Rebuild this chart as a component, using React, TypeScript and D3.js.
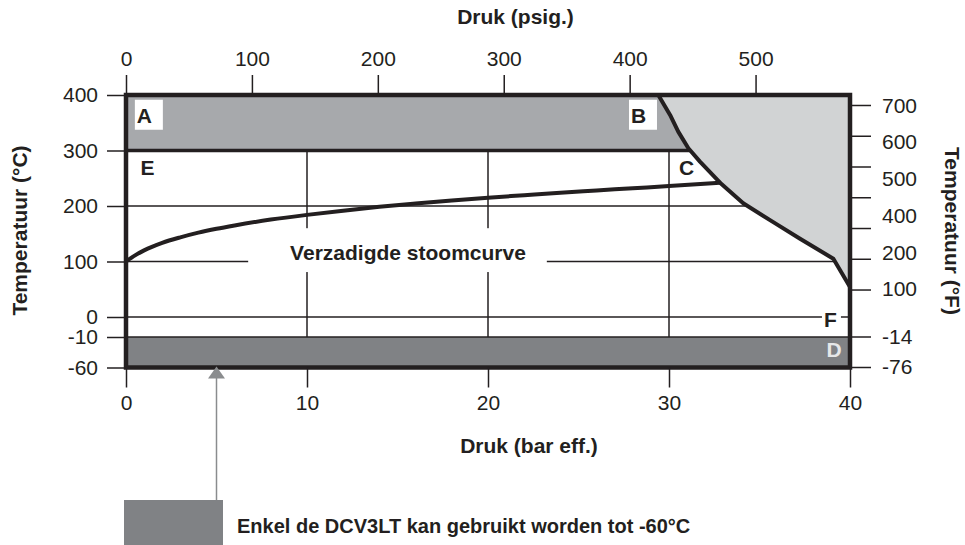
import React, { useRef, useEffect } from "react";
import * as d3 from "d3";

const W = 965;
const H = 545;
const FONT = "'Liberation Sans', Arial, Helvetica, sans-serif";
const INK = "#231f20";

// axis ticks
const barTicks = [0, 10, 20, 30, 40];
const psigTicks = [0, 100, 200, 300, 400, 500];
const celsiusTicks = [400, 300, 200, 100, 0, -10, -60];
const fahrenheitTicks = [700, 600, 500, 400, 300, 200, 100];
const fahrenheitLabels = ["700", "600", "500", "400", "200", "100"];
const fahrenheitLowLabels = ["-14", "-76"];
const fahrenheitLowCelsius = [-10, -60];

// saturated steam curve (bar eff. -> °C)
const steamBar = [0, 0.5, 1, 2, 3, 4, 5, 6, 8, 10, 12, 14, 16, 18, 20, 22, 24, 26, 28, 30, 32.8];
const steamC = [100, 111, 120, 133.5, 143.5, 152, 159, 165, 175.5, 184, 191.5, 198.5, 204.5, 210, 215, 219.5, 224, 228, 232, 236, 242];

// body limit curve (bar eff. -> °C)
const limitBar = [29.41, 29.75, 30.06, 30.51, 31.07, 31.71, 32.82, 34.1, 35.76, 37.24, 39.08, 40];
const limitC = [400, 381, 364, 334, 304, 280, 242, 205, 171, 141, 105, 54];

function App() {
  const svgRef = useRef<SVGSVGElement>(null);

  useEffect(() => {
    const svg = d3.select(svgRef.current);
    svg.selectAll("*").remove();

    const x = d3.scaleLinear().domain([0, 40]).range([126, 850]);
    const y = d3.scaleLinear().domain([-60, -10, 0, 400]).range([367.5, 337, 317, 95]);
    const xPsi = d3.scaleLinear().domain([0, 575]).range([126, 850]);
    const yF = d3.scaleLinear().domain([100, 700]).range([y(49.5), y(382)]);

    svg.append("rect").attr("width", W).attr("height", H).attr("fill", "#fff");

    // band D
    svg
      .append("rect")
      .attr("x", x(0))
      .attr("y", y(-10))
      .attr("width", x(40) - x(0))
      .attr("height", y(-60) - y(-10))
      .attr("fill", "#808285");

    // grid
    const grid = svg.append("g").attr("stroke", INK).attr("stroke-width", 1.5);
    [10, 20, 30].forEach((b) => {
      grid.append("line").attr("x1", x(b)).attr("x2", x(b)).attr("y1", y(300)).attr("y2", y(-10));
    });
    [200, 100, 0, -10].forEach((c) => {
      grid.append("line").attr("x1", x(0)).attr("x2", x(40)).attr("y1", y(c)).attr("y2", y(c));
    });

    // band A
    svg
      .append("rect")
      .attr("x", x(0))
      .attr("y", y(400))
      .attr("width", x(40) - x(0))
      .attr("height", y(300) - y(400))
      .attr("fill", "#a7a9ac");
    svg
      .append("line")
      .attr("x1", x(0))
      .attr("x2", x(40))
      .attr("y1", y(300))
      .attr("y2", y(300))
      .attr("stroke", INK)
      .attr("stroke-width", 3.5);

    // limit region
    const limitPts: [number, number][] = limitBar.map((b, i) => [x(b), y(limitC[i])]);
    const area = [...limitPts, [x(40), y(400)] as [number, number]];
    svg
      .append("path")
      .attr("d", "M" + area.map((p) => p.join(",")).join("L") + "Z")
      .attr("fill", "#d1d3d4");
    svg
      .append("path")
      .attr("d", d3.line()(limitPts))
      .attr("fill", "none")
      .attr("stroke", INK)
      .attr("stroke-width", 4)
      .attr("stroke-linejoin", "round");

    // saturated steam curve
    const steamLine = d3
      .line<number>()
      .x((b) => x(b))
      .y((b, i) => y(steamC[i]))
      .curve(d3.curveMonotoneX);
    svg
      .append("path")
      .datum(steamBar)
      .attr("d", steamLine)
      .attr("fill", "none")
      .attr("stroke", INK)
      .attr("stroke-width", 4)
      .attr("stroke-linecap", "round");

    // curve label
    svg
      .append("rect")
      .attr("x", x(6.75))
      .attr("y", y(160))
      .attr("width", x(23.25) - x(6.75))
      .attr("height", y(81) - y(160))
      .attr("fill", "#fff");
    svg
      .append("text")
      .attr("x", x(15.58))
      .attr("y", y(102.7))
      .attr("text-anchor", "middle")
      .attr("font-family", FONT)
      .attr("font-weight", "bold")
      .attr("font-size", 21)
      .attr("fill", INK)
      .text("Verzadigde stoomcurve");

    // point letters
    const letter = (t: string, b: number, c: number, box: boolean, fill = INK) => {
      if (box) {
        svg
          .append("rect")
          .attr("x", x(b) - 2)
          .attr("y", y(c) - 23)
          .attr("width", 28)
          .attr("height", 30)
          .attr("fill", "#fff");
      }
      svg
        .append("text")
        .attr("x", x(b))
        .attr("y", y(c))
        .attr("font-family", FONT)
        .attr("font-weight", "bold")
        .attr("font-size", 21)
        .attr("fill", fill)
        .text(t);
    };
    letter("A", 0.6, 350, true);
    letter("B", 27.9, 350, true);
    letter("E", 0.8, 256, false);
    letter("C", 30.55, 256, false);
    svg
      .append("rect")
      .attr("x", x(38.45))
      .attr("y", y(0) - 11)
      .attr("width", 19)
      .attr("height", 24)
      .attr("fill", "#fff");
    letter("F", 38.56, -5.2, false);
    letter("D", 38.7, -42.8, false, "#e6e7e8");

    // frame
    svg
      .append("rect")
      .attr("x", x(0))
      .attr("y", y(400))
      .attr("width", x(40) - x(0))
      .attr("height", y(-60) - y(400))
      .attr("fill", "none")
      .attr("stroke", INK)
      .attr("stroke-width", 4.5);

    const styleAxis = (g: d3.Selection<SVGGElement, unknown, null, undefined>) => {
      g.select(".domain").remove();
      g.attr("font-family", FONT).attr("font-size", 21);
      g.selectAll("line").attr("stroke", INK).attr("stroke-width", 1.5);
      g.selectAll("text").attr("fill", INK);
    };

    svg
      .append("g")
      .attr("transform", `translate(0,${y(400)})`)
      .call(d3.axisTop(xPsi).tickValues(psigTicks).tickSize(20).tickPadding(9).tickFormat((d) => String(d)))
      .call(styleAxis);
    svg
      .append("g")
      .attr("transform", `translate(0,${y(-60)})`)
      .call(d3.axisBottom(x).tickValues(barTicks).tickSize(20).tickPadding(8).tickFormat((d) => String(d)))
      .call(styleAxis);
    svg
      .append("g")
      .attr("transform", `translate(${x(0)},0)`)
      .call(d3.axisLeft(y).tickValues(celsiusTicks).tickSize(19).tickPadding(9).tickFormat((d) => String(d)))
      .call(styleAxis);
    svg
      .append("g")
      .attr("transform", `translate(${x(40)},0)`)
      .call(d3.axisRight(yF).tickValues(fahrenheitTicks).tickSize(21).tickFormat(() => ""))
      .call(styleAxis);

    const right = svg.append("g").attr("font-family", FONT).attr("font-size", 21).attr("fill", INK);
    fahrenheitLowCelsius.forEach((c) => {
      right
        .append("line")
        .attr("x1", x(40))
        .attr("x2", x(40) + 21)
        .attr("y1", y(c))
        .attr("y2", y(c))
        .attr("stroke", INK)
        .attr("stroke-width", 1.5);
    });
    const labelPos = d3.scalePoint().domain(fahrenheitLabels).range([yF(700) + 1, yF(100)]);
    fahrenheitLabels.forEach((l) => {
      right
        .append("text")
        .attr("x", x(40) + 32)
        .attr("y", labelPos(l) as number)
        .attr("dy", "0.32em")
        .text(l);
    });
    fahrenheitLowLabels.forEach((l, i) => {
      right
        .append("text")
        .attr("x", x(40) + 32)
        .attr("y", y(fahrenheitLowCelsius[i]))
        .attr("dy", "0.32em")
        .text(l);
    });

    // axis titles
    const title = (t: string, tx: number, ty: number, rot: number) =>
      svg
        .append("text")
        .attr("transform", `translate(${tx},${ty}) rotate(${rot})`)
        .attr("text-anchor", "middle")
        .attr("font-family", FONT)
        .attr("font-weight", "bold")
        .attr("font-size", 21)
        .attr("fill", INK)
        .text(t);
    title("Druk (psig.)", 515.5, 24, 0);
    title("Druk (bar eff.)", 529, 453, 0);
    title("Temperatuur (°C)", 27, 230.5, -90);
    title("Temperatuur (°F)", 945, 231, 90);

    // legend with arrow
    const ax = x(5);
    svg
      .append("line")
      .attr("x1", ax)
      .attr("x2", ax)
      .attr("y1", y(-60) + 8)
      .attr("y2", 500)
      .attr("stroke", "#8a8c8e")
      .attr("stroke-width", 1.5);
    svg
      .append("path")
      .attr("d", `M${ax},${y(-60) - 1}L${ax - 8.5},${y(-60) + 11}L${ax + 8.5},${y(-60) + 11}Z`)
      .attr("fill", "#8a8c8e");
    svg.append("rect").attr("x", 124).attr("y", 500).attr("width", 99).attr("height", 45).attr("fill", "#808285");
    svg
      .append("text")
      .attr("x", 237)
      .attr("y", 533)
      .attr("font-family", FONT)
      .attr("font-weight", "bold")
      .attr("font-size", 20)
      .attr("fill", INK)
      .text("Enkel de DCV3LT kan gebruikt worden tot -60°C");
  }, []);

  return (
    <svg
      ref={svgRef}
      width={W}
      height={H}
      style={{ position: "absolute", left: 0, top: 0 }}
    ></svg>
  );
}

export default App;
